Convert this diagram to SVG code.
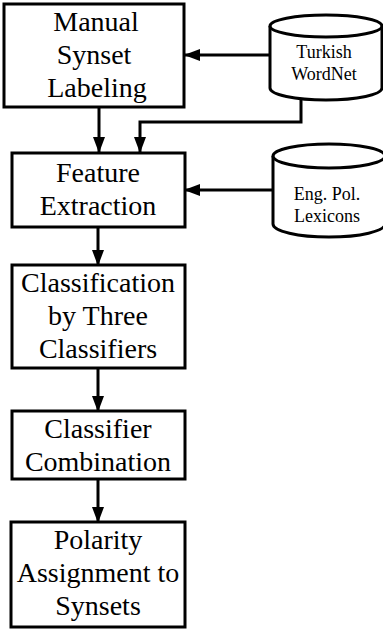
<svg xmlns="http://www.w3.org/2000/svg" width="383" height="629" viewBox="0 0 383 629">
<style>
.box{fill:#fff;stroke:#000;stroke-width:3}
.cyl{fill:#fff;stroke:#000;stroke-width:3}
text{font-family:'Liberation Serif',Tinos,'Times New Roman',Times,'DejaVu Serif',serif;fill:#000;text-anchor:middle}
.big{font-size:28px}
.small{font-size:18px}
.conn{fill:none;stroke:#000;stroke-width:3}
</style>
<defs>
<marker id="arr" markerUnits="userSpaceOnUse" markerWidth="16" markerHeight="12" refX="15" refY="6" orient="auto">
<path d="M0,0 L16,6 L0,12 Z" fill="#000"/>
</marker>
</defs>
<rect width="383" height="629" fill="#fff"/>
<g id="connectors">
<path class="conn" d="M270,55 H185" marker-end="url(#arr)"/>
<path class="conn" d="M301,100 V122 H140 V152" marker-end="url(#arr)"/>
<path class="conn" d="M99,107 V152" marker-end="url(#arr)"/>
<path class="conn" d="M273,190 H185" marker-end="url(#arr)"/>
<path class="conn" d="M98,227 V265" marker-end="url(#arr)"/>
<path class="conn" d="M98,368 V411" marker-end="url(#arr)"/>
<path class="conn" d="M98,479 V522" marker-end="url(#arr)"/>
</g>
<g id="manual">
<rect class="box" x="4" y="4" width="180" height="103"/>
<text class="big" x="96" y="31" font-family="Liberation Serif, serif">Manual</text>
<text class="big" x="94" y="64" font-family="Liberation Serif, serif">Synset</text>
<text class="big" x="97" y="97" font-family="Liberation Serif, serif">Labeling</text>
</g>
<g id="turkish-wordnet">
<path class="cyl" d="M270,26 V88 A56,12 0 0 0 382,88 V26 A56,11 0 0 0 270,26 Z"/>
<path class="cyl" d="M270,26 A56,11 0 0 0 382,26"/>
<text class="small" x="324" y="58">Turkish</text>
<text class="small" x="324" y="80">WordNet</text>
</g>
<g id="feature">
<rect class="box" x="12" y="153" width="173" height="74"/>
<text class="big" x="98" y="182">Feature</text>
<text class="big" x="98" y="215">Extraction</text>
</g>
<g id="eng-pol-lexicons">
<path class="cyl" d="M273,156 V224 A56,13 0 0 0 385,224 V156 A56,12 0 0 0 273,156 Z"/>
<path class="cyl" d="M273,156 A56,12 0 0 0 385,156"/>
<text class="small" x="327" y="200">Eng. Pol.</text>
<text class="small" x="327" y="222">Lexicons</text>
</g>
<g id="classification">
<rect class="box" x="12" y="265" width="173" height="103"/>
<text class="big" x="98" y="292">Classification</text>
<text class="big" x="98" y="325">by Three</text>
<text class="big" x="98" y="358">Classifiers</text>
</g>
<g id="combination">
<rect class="box" x="12" y="411" width="173" height="68"/>
<text class="big" x="98" y="438">Classifier</text>
<text class="big" x="98" y="471">Combination</text>
</g>
<g id="polarity">
<rect class="box" x="11" y="522" width="174" height="105"/>
<text class="big" x="98" y="549">Polarity</text>
<text class="big" x="98" y="582">Assignment to</text>
<text class="big" x="98" y="615">Synsets</text>
</g>
</svg>
